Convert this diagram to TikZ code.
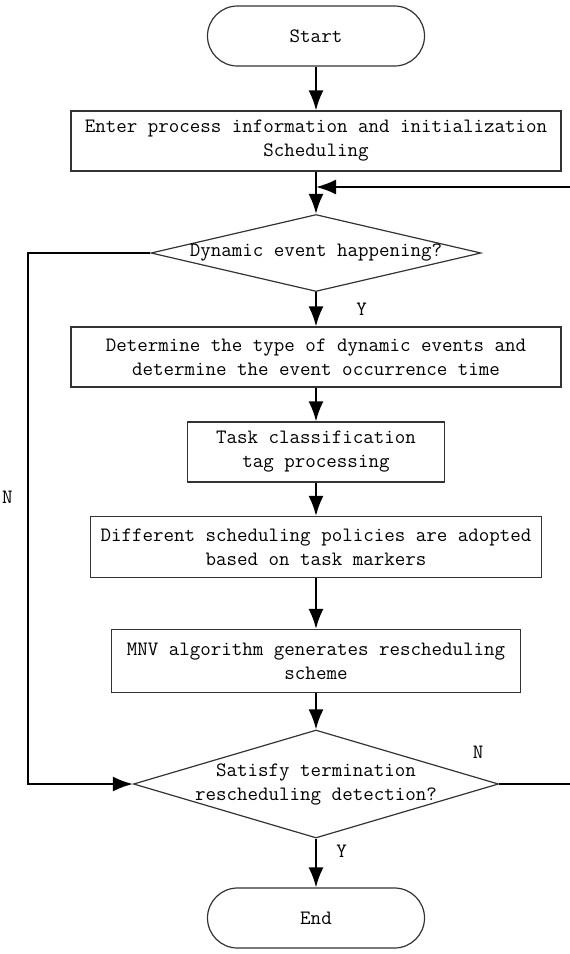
\documentclass[tikz,border=0pt]{standalone}
\usepackage{fontspec}
\usetikzlibrary{shapes.geometric,arrows.meta}

\begin{document}
\begin{tikzpicture}[x=1pt, y=-1pt,
    every node/.style={font=\ttfamily\fontsize{20.4}{24}\selectfont, align=center},
    box/.style={draw=black!80, line width=1.2pt, minimum height=60pt, inner sep=0pt},
    term/.style={box, rounded corners=30pt, minimum width=217pt},
    decision/.style={draw=black!80, line width=1.2pt, diamond, inner sep=0pt},
    flow/.style={line width=2pt, -{Latex[length=20pt,width=15pt]}}]
        \useasboundingbox (0,0) rectangle (570,954);

        \node[term] (start) at (316,36) {Start};
        \node[box, minimum width=490pt] (info) at (316,141) {Enter process information and initialization\\Scheduling};
        \node[decision, minimum width=330pt, minimum height=77pt] (event) at (316,253) {};
        \node (eventtxt) at (event) {Dynamic event happening?};
        \node[box, minimum width=490pt] (type) at (316,357) {Determine the type of dynamic events and\\determine the event occurrence time};
        \node[box, minimum width=257pt] (tag) at (316,452) {Task classification\\tag processing};
        \node[box, minimum width=451pt, minimum height=61pt] (policy) at (316,547) {Different scheduling policies are adopted\\based on task markers};
        \node[box, minimum width=409pt, minimum height=63pt] (mnv) at (316,661) {MNV algorithm generates rescheduling\\scheme};
        \node[decision, minimum width=365pt, minimum height=108pt] (check) at (316,784) {};
        \node (checktxt) at (check) {Satisfy termination\\rescheduling detection?};
        \node[term] (end) at (316,918) {End};
        \coordinate (join) at (316,187);

        \draw[flow] (start) -- (info);
        \draw[flow] (info) -- (event);
        \draw[flow] (event) -- node[right=36pt] (yes1) {Y} (type);
        \draw[flow] (type) -- (tag);
        \draw[flow] (tag) -- (policy);
        \draw[flow] (policy) -- (mnv);
        \draw[flow] (mnv) -- (check);
        \draw[flow] (check) -- node[pos=0.25, right=16pt] (yes2) {Y} (end);
        % loops back
        \draw[flow] (event.west) -- (28,253) -- node[pos=0.46, left=11pt] (no1) {N} (28,784) -- (check.west);
        \draw[flow] (check.east) -- (578,784) -- (578,187) -- (join);
        \node (no2) at (478,752) {N};
\end{tikzpicture}
\end{document}
